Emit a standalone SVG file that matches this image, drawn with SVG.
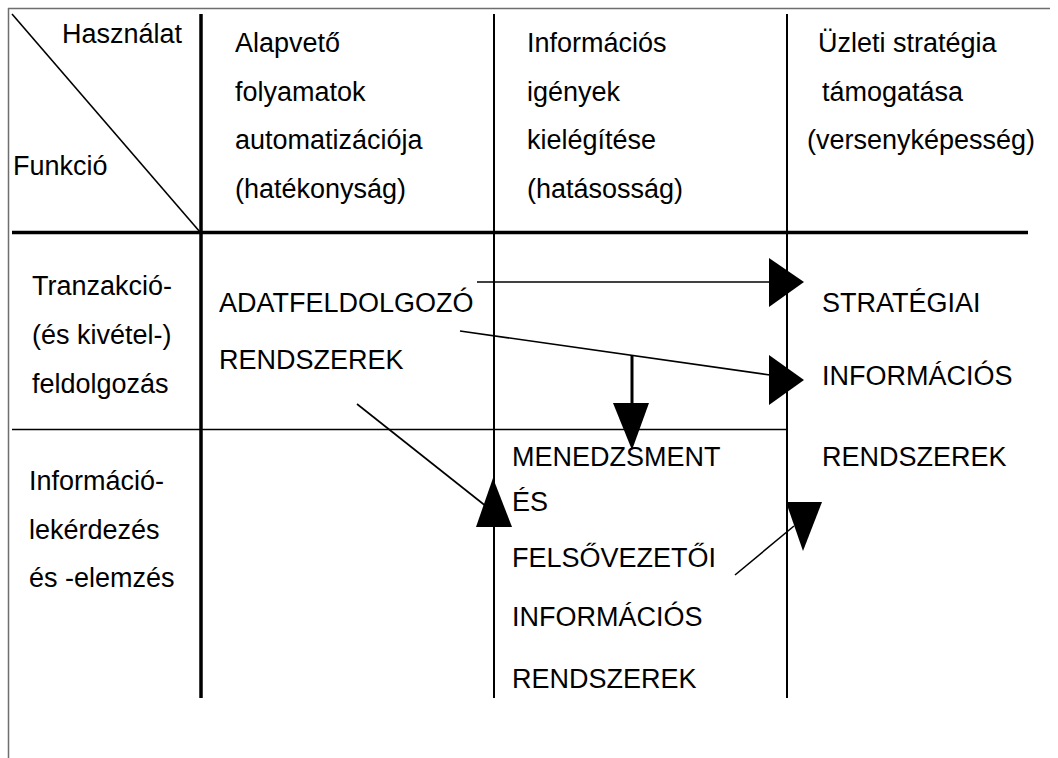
<svg xmlns="http://www.w3.org/2000/svg" width="1058" height="758" viewBox="0 0 1058 758">
<style>
text{font-family:"Liberation Sans",Arial,sans-serif;font-size:27px;fill:#000}
.frame{stroke:#6e6e6e;stroke-width:1.5;fill:none}
.thick{stroke:#000;stroke-width:3.5}
.mid{stroke:#000;stroke-width:2}
.thin{stroke:#000;stroke-width:1.6}
.conn{stroke:#000;stroke-width:1.6;fill:none}
.head{fill:#000;stroke:none}
</style>
<rect width="1058" height="758" fill="#fff"/>
<g id="frame">
<line class="frame" x1="8" y1="8.5" x2="1050" y2="8.5"/>
<line class="frame" x1="8.5" y1="8" x2="8.5" y2="758"/>
</g>
<g id="grid">
<line class="thin" x1="12" y1="14" x2="200" y2="232"/>
<line class="thick" x1="201" y1="14" x2="201" y2="698"/>
<line class="mid" x1="494" y1="14" x2="494" y2="698"/>
<line class="mid" x1="787" y1="14" x2="787" y2="698"/>
<line class="thick" x1="12" y1="232.5" x2="1028" y2="232.5"/>
<line class="thin" x1="12" y1="429.5" x2="787" y2="429.5"/>
</g>
<g id="corner-header">
<text x="62" y="43">Használat</text>
<text x="13" y="175">Funkció</text>
</g>
<g id="col-hatekonysag">
<text x="235" y="52">Alapvető</text>
<text x="235" y="101">folyamatok</text>
<text x="235" y="149">automatizációja</text>
<text x="235" y="198">(hatékonyság)</text>
</g>
<g id="col-hatasossag">
<text x="527" y="52">Információs</text>
<text x="527" y="101">igények</text>
<text x="527" y="149">kielégítése</text>
<text x="527" y="198">(hatásosság)</text>
</g>
<g id="col-versenykepesseg">
<text x="818" y="52">Üzleti stratégia</text>
<text x="822" y="101">támogatása</text>
<text x="807" y="149">(versenyképesség)</text>
</g>
<g id="row-tranzakcio">
<text x="32" y="295">Tranzakció-</text>
<text x="32" y="344">(és kivétel-)</text>
<text x="32" y="393">feldolgozás</text>
</g>
<g id="row-informacio">
<text x="29" y="490">Információ-</text>
<text x="29" y="539">lekérdezés</text>
<text x="29" y="587">és -elemzés</text>
</g>
<g id="node-adatfeldolgozo">
<text x="219" y="312">ADATFELDOLGOZÓ</text>
<text x="219" y="369">RENDSZEREK</text>
</g>
<g id="node-strategiai">
<text x="822" y="312">STRATÉGIAI</text>
<text x="822" y="385">INFORMÁCIÓS</text>
<text x="822" y="466">RENDSZEREK</text>
</g>
<g id="node-menedzsment">
<text x="512" y="466">MENEDZSMENT</text>
<text x="512" y="511">ÉS</text>
<text x="512" y="567">FELSŐVEZETŐI</text>
<text x="512" y="626">INFORMÁCIÓS</text>
<text x="512" y="688">RENDSZEREK</text>
</g>
<g id="connectors">
<line class="conn" x1="477" y1="282" x2="770" y2="282"/>
<polygon class="head" points="769,258 804,282 769,307"/>
<line class="conn" x1="460" y1="331" x2="770" y2="375"/>
<polygon class="head" points="769,355 804,380 769,405"/>
<line class="conn" x1="632" y1="355" x2="632" y2="404" style="stroke-width:3"/>
<polygon class="head" points="613,403 649,403 632,450"/>
<line class="conn" x1="357" y1="404" x2="487" y2="507"/>
<polygon class="head" points="493,478 512,527 476,527"/>
<line class="conn" x1="735" y1="575" x2="794" y2="526"/>
<polygon class="head" points="786,502 822,502 803,551"/>
</g>
</svg>
